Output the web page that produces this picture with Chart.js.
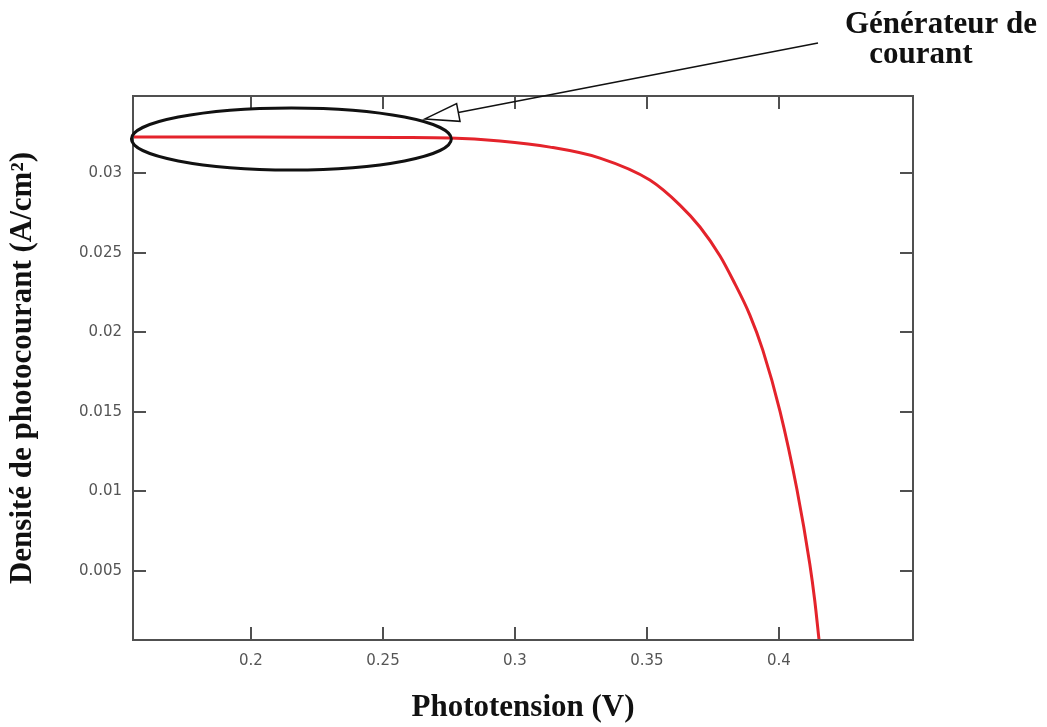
<!DOCTYPE html>
<html>
<head>
<meta charset="utf-8">
<script src="https://cdn.jsdelivr.net/npm/chart.js@4.4.0/dist/chart.umd.min.js"></script>
<style>
  html, body { margin: 0; padding: 0; background: #fff; }
  #wrap { width: 1047px; height: 727px; position: relative; }
</style>
</head>
<body>
<div id="wrap"><canvas id="ivChart"></canvas></div>
<script>
// I-V curve
const voltage = [0.1553, 0.2, 0.2564, 0.2754, 0.2943, 0.3133, 0.3322, 0.3511, 0.3625, 0.3701, 0.3777, 0.3826, 0.389, 0.3939, 0.4004, 0.4068, 0.4117, 0.4136, 0.4152];
const currentDensity = [0.03226, 0.03226, 0.03223, 0.0322, 0.03201, 0.03163, 0.03094, 0.02956, 0.02799, 0.02661, 0.02479, 0.02328, 0.02108, 0.01888, 0.01505, 0.01015, 0.00544, 0.00312, 0.00067];

const xTicks = [0.2, 0.25, 0.3, 0.35, 0.4];
const yTicks = [0.005, 0.01, 0.015, 0.02, 0.025, 0.03];

// circled region "générateur de courant" (data units)
const zoneCenter = [0.2153, 0.03214];
const zoneRadius = [0.0606, 0.00195];
const arrowTip = [0.2659, 0.0334];

const serif = 'Liberation Serif';

const frameAndMarks = {
    id: 'frameAndMarks',
    afterDatasetsDraw(chart) {
        const { ctx, chartArea: a, scales: { x, y } } = chart;
        ctx.save();

        // box + inward ticks on every side
        ctx.strokeStyle = '#505050';
        ctx.lineWidth = 2;
        ctx.strokeRect(a.left, a.top, a.right - a.left, a.bottom - a.top);
        ctx.beginPath();
        x.ticks.forEach(t => {
            const px = Math.round(x.getPixelForValue(t.value));
            ctx.moveTo(px, a.bottom); ctx.lineTo(px, a.bottom - 13);
            ctx.moveTo(px, a.top); ctx.lineTo(px, a.top + 13);
        });
        y.ticks.forEach(t => {
            const py = Math.round(y.getPixelForValue(t.value));
            ctx.moveTo(a.left, py); ctx.lineTo(a.left + 13, py);
            ctx.moveTo(a.right, py); ctx.lineTo(a.right - 13, py);
        });
        ctx.stroke();

        // ellipse
        const cx = x.getPixelForValue(zoneCenter[0]);
        const cy = y.getPixelForValue(zoneCenter[1]);
        const rx = x.getPixelForValue(zoneCenter[0] + zoneRadius[0]) - cx;
        const ry = cy - y.getPixelForValue(zoneCenter[1] + zoneRadius[1]);
        ctx.strokeStyle = '#111';
        ctx.lineWidth = 3;
        ctx.beginPath();
        ctx.ellipse(cx, cy, rx, ry, 0, 0, Math.PI * 2);
        ctx.stroke();

        // arrow with open head
        const tx = x.getPixelForValue(arrowTip[0]);
        const ty = y.getPixelForValue(arrowTip[1]);
        const sx = 818, sy = 43;
        const len = Math.hypot(sx - tx, sy - ty);
        const ux = (sx - tx) / len, uy = (sy - ty) / len;
        const bx = tx + ux * 34, by = ty + uy * 34;
        ctx.lineWidth = 1.5;
        ctx.beginPath();
        ctx.moveTo(bx, by); ctx.lineTo(sx, sy);
        ctx.moveTo(tx, ty);
        ctx.lineTo(bx - uy * 9, by + ux * 9);
        ctx.lineTo(bx + uy * 9, by - ux * 9);
        ctx.closePath();
        ctx.stroke();

        // label
        ctx.fillStyle = '#111';
        ctx.font = 'bold 31px "' + serif + '"';
        ctx.textBaseline = 'alphabetic';
        ctx.textAlign = 'left';
        ctx.fillText('Générateur de', 845, 33);
        ctx.textAlign = 'center';
        ctx.fillText('courant', 921, 63);
        ctx.restore();
    }
};

new Chart(document.getElementById('ivChart'), {
    type: 'line',
    data: {
        datasets: [{
            data: voltage.map((v, i) => ({ x: v, y: currentDensity[i] })),
            borderColor: '#e4232b',
            borderWidth: 3,
            pointRadius: 0,
            cubicInterpolationMode: 'monotone',
            fill: false
        }]
    },
    options: {
        responsive: true,
        maintainAspectRatio: false,
        animation: false,
        layout: { padding: { left: 0, top: 96, right: 134, bottom: 0 } },
        plugins: { legend: { display: false }, tooltip: { enabled: false } },
        scales: {
            x: {
                type: 'linear',
                min: 0.1553,
                max: 0.4508,
                afterBuildTicks: s => { s.ticks = xTicks.map(v => ({ value: v })); },
                afterFit: s => { s.height = 87; },
                grid: { display: false, drawTicks: false },
                border: { display: false },
                ticks: {
                    padding: 12,
                    autoSkip: false,
                    maxRotation: 0,
                    color: '#555',
                    font: { size: 15, family: 'DejaVu Sans' },
                    callback: v => String(v)
                },
                title: {
                    display: true,
                    text: 'Phototension (V)',
                    color: '#111',
                    padding: { top: 0, bottom: 0 },
                    font: { size: 31, weight: 'bold', family: serif }
                }
            },
            y: {
                type: 'linear',
                min: 0.00067,
                max: 0.03484,
                afterBuildTicks: s => { s.ticks = yTicks.map(v => ({ value: v })); },
                afterFit: s => { s.width = 133; },
                grid: { display: false, drawTicks: false },
                border: { display: false },
                ticks: {
                    padding: 11,
                    autoSkip: false,
                    color: '#555',
                    font: { size: 15, family: 'DejaVu Sans' },
                    callback: v => String(v)
                },
                title: {
                    display: true,
                    text: 'Densité de photocourant (A/cm²)',
                    color: '#111',
                    padding: { top: 4, bottom: 0 },
                    font: { size: 31, weight: 'bold', family: serif }
                }
            }
        }
    },
    plugins: [frameAndMarks]
});
</script>
</body>
</html>
